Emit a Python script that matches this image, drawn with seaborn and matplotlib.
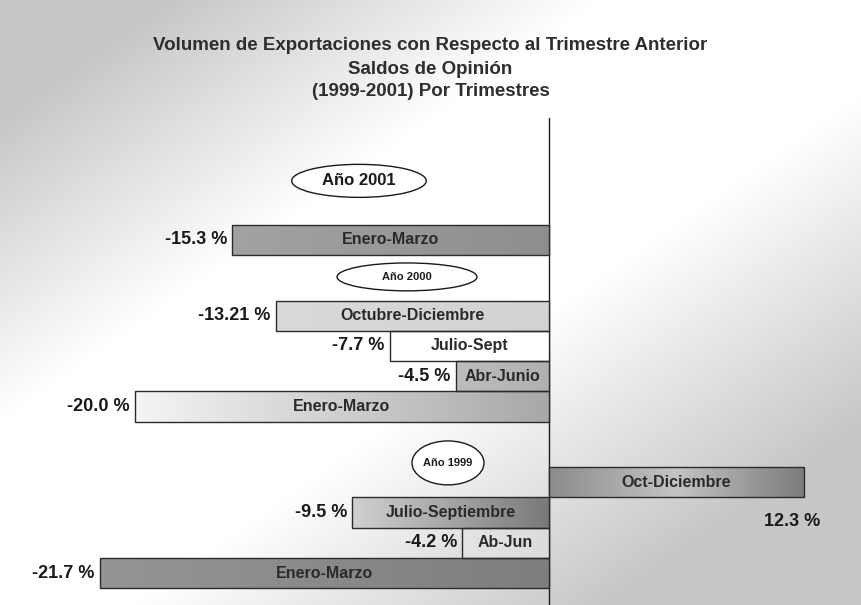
import numpy as np
import pandas as pd
import seaborn as sns
import matplotlib.pyplot as plt
from matplotlib.colors import LinearSegmentedColormap
from matplotlib.patches import Ellipse

# data
periods = ["Enero-Marzo", "Octubre-Diciembre", "Julio-Sept", "Abr-Junio", "Enero-Marzo",
           "Oct-Diciembre", "Julio-Septiembre", "Ab-Jun", "Enero-Marzo"]
years = [2001, 2000, 2000, 2000, 2000, 1999, 1999, 1999, 1999]
values = [-15.3, -13.21, -7.7, -4.5, -20.0, 12.3, -9.5, -4.2, -21.7]
value_labels = ["-15.3 %", "-13.21 %", "-7.7 %", "-4.5 %", "-20.0 %",
                "12.3 %", "-9.5 %", "-4.2 %", "-21.7 %"]
year_labels = ["Año 2001", "Año 2000", "Año 1999"]
title_lines = ["Volumen de Exportaciones con Respecto al Trimestre Anterior",
               "Saldos de Opinión",
               "(1999-2001) Por Trimestres"]

# fill of each bar: colour stops from left to right
bar_fills = [["#a2a2a2", "#8e8e8e"], ["#dadada", "#d2d2d2"], ["#ffffff", "#ffffff"],
             ["#bdbdbd", "#b0b0b0"], ["#f4f4f4", "#a8a8a8"], ["#8c8c8c", "#c4c4c4", "#7c7c7c"],
             ["#d0d0d0", "#7a7a7a"], ["#e4e4e4", "#dcdcdc"], ["#959595", "#7e7e7e"]]

# rows: one slot per bar, extra 1.5 slot gap between years
pos = []
gap = 0.0
for i, y in enumerate(years):
    if i > 0 and y != years[i - 1]:
        gap += 1.5
    pos.append(i + gap)

df = pd.DataFrame({"periodo": periods, "anio": years, "valor": values, "pos": pos})

sns.set_style("white")
plt.rcParams["font.family"] = ["Liberation Sans", "DejaVu Sans"]
plt.rcParams["font.weight"] = "bold"

fig = plt.figure(figsize=(8.61, 6.05), dpi=100)
ax = fig.add_axes([0, 0, 1, 1])
ax.set_facecolor("none")

xlim = (-26.52, 15.07)
ylim = (12.05, -7.92)

# washed grey background, darker at top-left and bottom-right
gx, gy = np.meshgrid(np.linspace(0, 1, 300), np.linspace(0, 1, 220))
s = gx + gy - 1
shade = 1 - 0.22 * np.clip((-s - 0.3) / 0.5, 0, 1) - 0.22 * np.clip((s - 0.15) / 0.55, 0, 1)
ax.imshow(shade, cmap="gray", vmin=0, vmax=1, extent=(xlim[0], xlim[1], ylim[0], ylim[1]),
          aspect="auto", zorder=0, origin="upper")

sns.barplot(data=df, x="valor", y="pos", orient="h", native_scale=True, width=1.0,
            errorbar=None, color="white", edgecolor="#2b2b2b", linewidth=1.0, ax=ax, zorder=2)

for bar, fill in zip(ax.patches, bar_fills):
    x0 = min(bar.get_x(), bar.get_x() + bar.get_width())
    x1 = max(bar.get_x(), bar.get_x() + bar.get_width())
    y0, y1 = bar.get_y(), bar.get_y() + bar.get_height()
    cmap = LinearSegmentedColormap.from_list("f", fill)
    im = ax.imshow(np.linspace(0, 1, 100).reshape(1, -1), cmap=cmap, aspect="auto",
                   extent=(x0, x1, y1, y0), zorder=2)
    im.set_clip_path(bar)
    bar.set_facecolor("none")
    bar.set_zorder(3)

for p, v, per, lab in zip(pos, values, periods, value_labels):
    ax.text(v / 2, p, per, ha="center", va="center", fontsize=11.5, color="#2a2a2a", zorder=4)
    if v < 0:
        ax.text(v - 0.25, p, lab, ha="right", va="center", fontsize=13, color="#1a1a1a")
    else:
        ax.text(v - 0.55, p + 1.3, lab, ha="center", va="center", fontsize=13, color="#1a1a1a")

ax.axvline(0, ymin=0, ymax=0.805, color="#1a1a1a", linewidth=1.0, zorder=1)

# year ovals
ovals = [(-9.18, -1.95, 6.5, 1.09, 12), (-6.86, 1.22, 6.76, 0.92, 8), (-4.88, 7.36, 3.48, 1.45, 8)]
for (ex, ey, ew, eh, fs), lab in zip(ovals, year_labels):
    ax.add_patch(Ellipse((ex, ey), ew, eh, facecolor="white", edgecolor="#1a1a1a",
                         linewidth=1.0, zorder=4))
    ax.text(ex, ey, lab, ha="center", va="center", fontsize=fs, color="#1a1a1a", zorder=5)

ax.set_xlim(xlim)
ax.set_ylim(ylim)
ax.axis("off")

for k, line in enumerate(title_lines):
    fig.text(0.5, 1 - (46 + 23 * k) / 605, line, ha="center", va="center",
             fontsize=13.5, color="#2e2e2e")

fig.savefig("out.png", dpi=100)
